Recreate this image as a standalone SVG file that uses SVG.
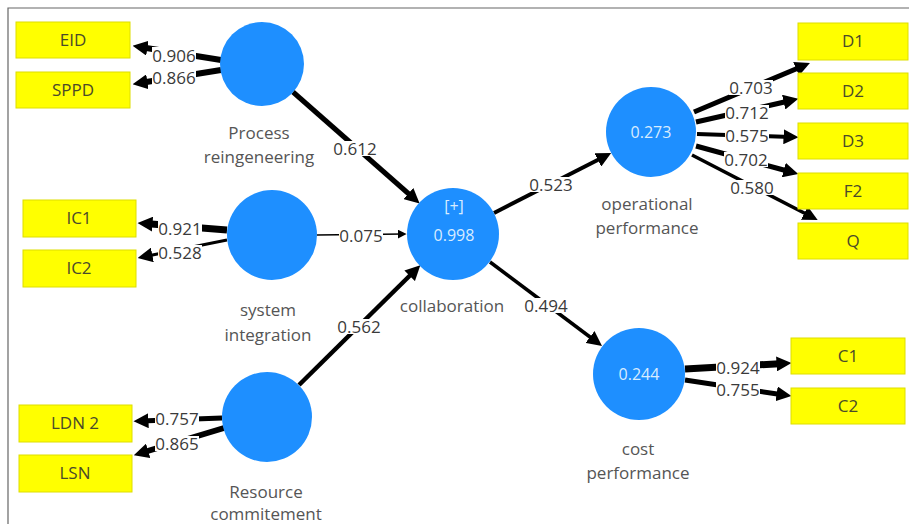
<svg xmlns="http://www.w3.org/2000/svg" width="909" height="524" viewBox="0 0 909 524">
<style>
text{font-family:"Open Sans","Noto Sans","Liberation Sans",sans-serif;font-size:17px}
.lv{fill:#3a3a3a;text-anchor:middle;dominant-baseline:central}
.lb{fill:#fff;width:44px;height:15px}
.nl{fill:#555;text-anchor:middle}
.bx rect{fill:#ffff00;stroke:#dede00;stroke-width:1}
.bx text{fill:#4a4a2a;text-anchor:middle}
.lv-c circle{fill:#1e8fff}
.cv{fill:#d8ecff;text-anchor:middle;font-size:16px}
.ln{stroke:#000;fill:none;marker-end:url(#ah)}
</style>
<defs>
<marker id="ah" viewBox="0 0 10 10" markerUnits="userSpaceOnUse" markerWidth="15" markerHeight="15" refX="5" refY="5" orient="auto">
<path d="M0,0 L10,5 L0,10 z" fill="#000"/>
</marker>
<marker id="ahs" viewBox="0 0 10 10" markerUnits="userSpaceOnUse" markerWidth="9" markerHeight="9" refX="6" refY="5" orient="auto">
<path d="M0,0 L10,5 L0,10 z" fill="#000"/>
</marker>
</defs>
<rect width="909" height="524" fill="#fff"/>
<path d="M8,524 L8,8 L909,8" fill="none" stroke="#666" stroke-width="1.2"/>

<g id="connectors">
<line class="ln" x1="221" y1="60" x2="140" y2="47" stroke-width="6"/>
<line class="ln" x1="221" y1="70" x2="140" y2="83" stroke-width="6"/>
<line class="ln" x1="227" y1="230" x2="145" y2="223.5" stroke-width="7"/>
<line class="ln" x1="227" y1="240" x2="145" y2="256.5" stroke-width="3"/>
<line class="ln" x1="222" y1="418" x2="141" y2="421" stroke-width="5"/>
<line class="ln" x1="224" y1="428" x2="141" y2="453" stroke-width="6"/>
<line class="ln" x1="694" y1="112" x2="803" y2="66" stroke-width="5"/>
<line class="ln" x1="696" y1="122" x2="791" y2="100.5" stroke-width="5"/>
<line class="ln" x1="697" y1="134" x2="791" y2="137" stroke-width="4"/>
<line class="ln" x1="696" y1="146" x2="791" y2="172" stroke-width="5"/>
<line class="ln" x1="692" y1="155" x2="811" y2="216.5" stroke-width="3.5"/>
<line class="ln" x1="685" y1="369" x2="784" y2="363.5" stroke-width="7"/>
<line class="ln" x1="685" y1="380" x2="784" y2="395" stroke-width="5"/>
<line class="ln" x1="293" y1="92" x2="414" y2="198.5" stroke-width="5"/>
<line x1="317" y1="235" x2="403" y2="234" stroke="#000" stroke-width="1.5" marker-end="url(#ahs)"/>
<line class="ln" x1="299" y1="385" x2="415" y2="270.5" stroke-width="4.5"/>
<line class="ln" x1="494" y1="213" x2="604.5" y2="156.5" stroke-width="4"/>
<line class="ln" x1="490" y1="262" x2="596" y2="341.5" stroke-width="3.5"/>
<rect class="lb" x="152" y="47"/><text class="lv" x="174" y="55">0.906</text>
<rect class="lb" x="152" y="70"/><text class="lv" x="174" y="77">0.866</text>
<rect class="lb" x="158" y="221"/><text class="lv" x="180" y="228">0.921</text>
<rect class="lb" x="158" y="245"/><text class="lv" x="180" y="252">0.528</text>
<rect class="lb" x="155" y="411"/><text class="lv" x="177" y="418">0.757</text>
<rect class="lb" x="155" y="436"/><text class="lv" x="177" y="443">0.865</text>
<rect class="lb" x="729" y="80"/><text class="lv" x="751" y="87">0.703</text>
<rect class="lb" x="725" y="105"/><text class="lv" x="747" y="112">0.712</text>
<rect class="lb" x="725" y="128"/><text class="lv" x="747" y="135">0.575</text>
<rect class="lb" x="724" y="152"/><text class="lv" x="746" y="159">0.702</text>
<rect class="lb" x="730" y="180"/><text class="lv" x="752" y="187">0.580</text>
<rect class="lb" x="716" y="360"/><text class="lv" x="738" y="367">0.924</text>
<rect class="lb" x="716" y="382"/><text class="lv" x="738" y="389">0.755</text>
<rect class="lb" x="333" y="141"/><text class="lv" x="355" y="148">0.612</text>
<rect class="lb" x="339" y="228"/><text class="lv" x="361" y="235">0.075</text>
<rect class="lb" x="337" y="319"/><text class="lv" x="359" y="326">0.562</text>
<rect class="lb" x="529" y="177"/><text class="lv" x="551" y="184">0.523</text>
<rect class="lb" x="524" y="298"/><text class="lv" x="546" y="305">0.494</text>
</g>

<g id="EID" class="bx"><rect x="16" y="22" width="114" height="36"/><text x="73" y="46">EID</text></g>
<g id="SPPD" class="bx"><rect x="16" y="72" width="114" height="36"/><text x="73" y="96">SPPD</text></g>
<g id="IC1" class="bx"><rect x="23" y="200" width="113" height="37"/><text x="79" y="224">IC1</text></g>
<g id="IC2" class="bx"><rect x="23" y="250" width="113" height="37"/><text x="79" y="274">IC2</text></g>
<g id="LDN2" class="bx"><rect x="19" y="405" width="113" height="37"/><text x="75" y="429">LDN 2</text></g>
<g id="LSN" class="bx"><rect x="19" y="455" width="113" height="37"/><text x="75" y="479">LSN</text></g>
<g id="D1" class="bx"><rect x="798" y="23" width="110" height="37"/><text x="853" y="47">D1</text></g>
<g id="D2" class="bx"><rect x="798" y="73" width="110" height="36"/><text x="853" y="97">D2</text></g>
<g id="D3" class="bx"><rect x="798" y="123" width="110" height="36"/><text x="853" y="147">D3</text></g>
<g id="F2" class="bx"><rect x="798" y="173" width="110" height="36"/><text x="853" y="197">F2</text></g>
<g id="Q" class="bx"><rect x="798" y="223" width="110" height="36"/><text x="853" y="247">Q</text></g>
<g id="C1" class="bx"><rect x="791" y="338" width="114" height="36"/><text x="848" y="362">C1</text></g>
<g id="C2" class="bx"><rect x="791" y="388" width="114" height="36"/><text x="848" y="412">C2</text></g>

<g id="process-reingeneering" class="lv-c"><circle cx="262" cy="64" r="42"/><text class="nl" x="259" y="139">Process</text><text class="nl" x="259" y="163">reingeneering</text></g>
<g id="system-integration" class="lv-c"><circle cx="272" cy="235" r="45"/><text class="nl" x="268" y="316">system</text><text class="nl" x="268" y="341">integration</text></g>
<g id="resource-commitement" class="lv-c"><circle cx="267" cy="417" r="45"/><text class="nl" x="266" y="498">Resource</text><text class="nl" x="266" y="520">commitement</text></g>
<g id="collaboration" class="lv-c"><circle cx="453" cy="234" r="46"/><text class="cv" x="454" y="212">[+]</text><text class="cv" x="454" y="241">0.998</text><text class="nl" x="452" y="312">collaboration</text></g>
<g id="operational-performance" class="lv-c"><circle cx="651" cy="132" r="45"/><text class="cv" x="651" y="138">0.273</text><text class="nl" x="647" y="210">operational</text><text class="nl" x="647" y="234">performance</text></g>
<g id="cost-performance" class="lv-c"><circle cx="639" cy="374" r="46"/><text class="cv" x="639" y="380">0.244</text><text class="nl" x="638" y="455">cost</text><text class="nl" x="638" y="479">performance</text></g>
</svg>
